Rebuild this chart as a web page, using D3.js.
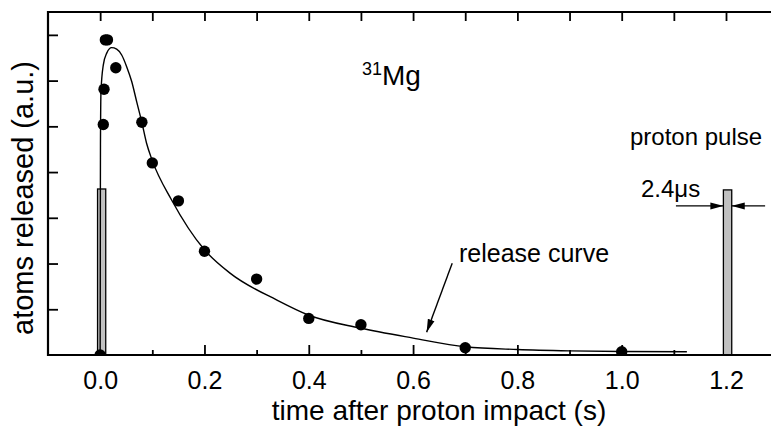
<!DOCTYPE html>
<html><head><meta charset="utf-8">
<script src="https://cdn.jsdelivr.net/npm/d3@7"></script>
<style>
html,body{margin:0;padding:0;background:#fff;}
text{font-family:"Liberation Sans",Arial,Helvetica,sans-serif;fill:#000;}
</style></head>
<body><svg id="chart" width="771" height="428"></svg>
<script>
// ---- data ----
const dotTime = [0.0, 0.006, 0.0074, 0.010, 0.014, 0.030, 0.080, 0.100, 0.150, 0.200, 0.300, 0.400, 0.500, 0.700, 1.000];
const dotValue = [0.0, 5.04, 5.81, 6.89, 6.89, 6.28, 5.09, 4.20, 3.37, 2.27, 1.66, 0.80, 0.66, 0.16, 0.07];

const curveTime = [0.000, 0.0003, 0.0006, 0.0016, 0.006, 0.0126, 0.022, 0.0317, 0.0413, 0.051, 0.0605, 0.070, 0.0797, 0.089, 0.100, 0.137, 0.200, 0.249, 0.339, 0.399, 0.498, 0.600, 0.700, 0.800, 0.900, 1.000, 1.125];
const curveValue = [0.00, 2.50, 4.60, 5.76, 6.34, 6.60, 6.72, 6.69, 6.56, 6.30, 5.98, 5.54, 5.10, 4.63, 4.25, 3.39, 2.30, 1.79, 1.20, 0.875, 0.59, 0.37, 0.18, 0.12, 0.09, 0.075, 0.07];

const pulseStart = [-0.005, 1.195];
const pulseEnd = [0.0107, 1.211];
const pulseHeight = [3.63, 3.61];

const xMajorTicks = [0.0, 0.2, 0.4, 0.6, 0.8, 1.0, 1.2];
const xMinorTicks = [0.1, 0.3, 0.5, 0.7, 0.9, 1.1];
const xTopTicks = [0.0, 0.1, 0.2, 0.3, 0.4, 0.5, 0.6, 0.7, 0.8, 0.9, 1.0, 1.1, 1.2];
const yTicks = [1, 2, 3, 4, 5, 6, 7];

// ---- layout ----
const svg = d3.select("#chart");
const L = 48, T = 12, B = 355;
const x = d3.scaleLinear().domain([-0.1, 1.2]).range([L, 726]);
const xRight = 1.29;
const y = d3.scaleLinear().domain([0, 7.5]).range([B, T]);
const RX = x(xRight);

const defs = svg.append("defs");
defs.append("clipPath").attr("id", "plotclip").append("rect")
  .attr("x", L).attr("y", T).attr("width", RX - L).attr("height", B - T);
defs.append("marker").attr("id", "arr").attr("viewBox", "0 0 13 8")
  .attr("refX", 13).attr("refY", 4).attr("markerWidth", 13).attr("markerHeight", 8)
  .attr("markerUnits", "userSpaceOnUse").attr("orient", "auto")
  .append("path").attr("d", "M0,0.5 L13,4 L0,7.5 Z").attr("fill", "#000");

// axes
const gB = svg.append("g").attr("transform", `translate(0,${B})`)
  .call(d3.axisBottom(x).tickValues(xMajorTicks).tickSizeInner(-10).tickSizeOuter(0).tickPadding(16).tickFormat(d3.format(".1f")));
const gBm = svg.append("g").attr("transform", `translate(0,${B})`)
  .call(d3.axisBottom(x).tickValues(xMinorTicks).tickSize(-5).tickFormat(""));
const gT = svg.append("g").attr("transform", `translate(0,${T})`)
  .call(d3.axisTop(x).tickValues(xTopTicks).tickSize(-9).tickFormat(""));
const gL = svg.append("g").attr("transform", `translate(${L},0)`)
  .call(d3.axisLeft(y).tickValues(yTicks).tickSize(-10).tickFormat(""));
[gB, gBm, gT, gL].forEach(g => {
  g.select(".domain").remove();
  g.selectAll(".tick line").attr("stroke", "#000").attr("stroke-width", 1.8);
});
gB.selectAll(".tick text").attr("font-size", 25).attr("font-family", "Liberation Sans, Arial, sans-serif").attr("fill", "#000");

// frame lines (left, top, bottom; right edge beyond view)
svg.append("line").attr("x1", L).attr("x2", L).attr("y1", T - 1).attr("y2", B + 1).attr("stroke", "#000").attr("stroke-width", 2.2);
svg.append("line").attr("x1", L - 1).attr("x2", 771).attr("y1", T).attr("y2", T).attr("stroke", "#000").attr("stroke-width", 2.2);

const plot = svg.append("g").attr("clip-path", "url(#plotclip)");

// pulse bars
plot.selectAll("rect.pulse").data(pulseStart.map((s, i) => ({s, e: pulseEnd[i], h: pulseHeight[i]})))
  .enter().append("rect").attr("class", "pulse")
  .attr("x", d => x(d.s)).attr("width", d => x(d.e) - x(d.s))
  .attr("y", d => y(d.h)).attr("height", d => y(0) - y(d.h))
  .attr("fill", "#c0c0c0").attr("stroke", "#000").attr("stroke-width", 1.3);

// release curve
const line = d3.line().x(d => x(d[0])).y(d => y(d[1])).curve(d3.curveMonotoneX);
plot.append("path").datum(curveTime.map((t, i) => [t, curveValue[i]]))
  .attr("d", line).attr("fill", "none").attr("stroke", "#000").attr("stroke-width", 1.4);

// dots
plot.selectAll("circle.dot").data(dotTime.map((t, i) => [t, dotValue[i]]))
  .enter().append("circle").attr("class", "dot")
  .attr("cx", d => x(d[0])).attr("cy", d => y(d[1])).attr("r", 5.7).attr("fill", "#000");

svg.append("line").attr("x1", L - 1).attr("x2", 771).attr("y1", B).attr("y2", B).attr("stroke", "#000").attr("stroke-width", 2.2);

// annotations
const ann = svg.append("g");
const t1 = ann.append("text").attr("x", 362).attr("y", 85).attr("font-size", 28);
t1.append("tspan").text("31").attr("font-size", 18).attr("dy", -10);
t1.append("tspan").text("Mg").attr("dy", 10);

ann.append("text").attr("x", 630).attr("y", 145).attr("font-size", 24).text("proton pulse");
ann.append("text").attr("x", 641).attr("y", 197).attr("font-size", 24).text("2.4μs");
ann.append("text").attr("x", 459).attr("y", 262).attr("font-size", 25).text("release curve");

// arrows (in data coordinates)
const arrowFrom = [[0.675, 2.005], [1.104, 3.26], [1.275, 3.26]];
const arrowTo = [[0.626, 0.50], [1.195, 3.26], [1.211, 3.26]];
ann.selectAll("line.arrow").data(arrowFrom.map((f, i) => [f, arrowTo[i]]))
  .enter().append("line").attr("class", "arrow")
  .attr("x1", d => x(d[0][0])).attr("y1", d => y(d[0][1]))
  .attr("x2", d => x(d[1][0])).attr("y2", d => y(d[1][1]))
  .attr("stroke", "#000").attr("stroke-width", 1.4).attr("marker-end", "url(#arr)");

// axis titles
svg.append("text").attr("x", 439).attr("y", 420).attr("text-anchor", "middle").attr("font-size", 28)
  .text("time after proton impact (s)");
svg.append("text").attr("transform", "translate(33,198) rotate(-90)").attr("text-anchor", "middle").attr("font-size", 29)
  .text("atoms released (a.u.)");
</script></body></html>
